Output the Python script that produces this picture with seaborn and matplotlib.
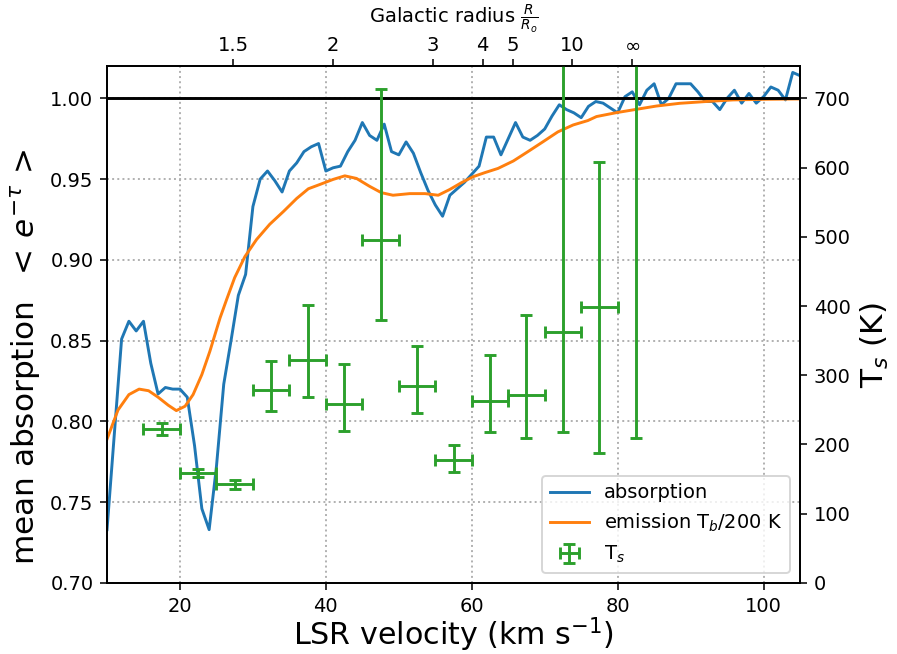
import numpy as np
import matplotlib
matplotlib.use("Agg")
import matplotlib.pyplot as plt
import seaborn as sns

# Mean HI absorption <exp(-tau)>, one channel per km/s from 10 to 105 km/s
velocity = np.arange(10, 106)
absorption = [
    0.733, 0.792, 0.851, 0.862, 0.856, 0.862, 0.836, 0.817, 0.821, 0.820,
    0.820, 0.815, 0.785, 0.746, 0.733, 0.772, 0.823, 0.850, 0.878, 0.891,
    0.933, 0.950, 0.955, 0.949, 0.942, 0.955, 0.960, 0.967, 0.970, 0.972,
    0.955, 0.957, 0.958, 0.967, 0.974, 0.985, 0.977, 0.974, 0.984, 0.967,
    0.965, 0.973, 0.966, 0.954, 0.943, 0.934, 0.927, 0.940, 0.944, 0.948,
    0.953, 0.958, 0.976, 0.976, 0.965, 0.975, 0.985, 0.976, 0.974, 0.977,
    0.981, 0.989, 0.996, 0.993, 0.991, 0.988, 0.995, 0.998, 0.997, 0.994,
    0.991, 1.001, 1.004, 0.996, 1.005, 1.009, 0.996, 1.000, 1.009, 1.009,
    1.009, 1.004, 0.998, 0.998, 0.993, 1.000, 1.005, 0.997, 1.003, 0.997,
    1.001, 1.007, 1.005, 0.999, 1.016, 1.014,
]

# Smoothed HI emission, T_b / 200 K
emission_velocity = [
    10.0, 11.5, 13.0, 14.4, 15.7, 17.0, 18.4, 19.5, 20.7, 21.8,
    23.0, 24.1, 25.5, 26.4, 27.5, 28.9, 30.5, 32.3, 34.2, 36.0,
    37.6, 39.2, 41.0, 42.6, 44.2, 46.0, 47.6, 49.2, 51.5, 53.6,
    55.4, 57.0, 58.6, 60.2, 61.8, 63.6, 65.7, 67.7, 69.8, 71.8,
    73.9, 75.9, 77.1, 79.8, 82.6, 85.3, 88.5, 92.1, 95.8, 100.4,
    105.0,
]
emission = [
    0.789, 0.807, 0.8166, 0.820, 0.819, 0.815, 0.810, 0.8067, 0.8094, 0.8166,
    0.829, 0.8434, 0.8641, 0.8755, 0.889, 0.902, 0.9126, 0.922, 0.930, 0.938,
    0.944, 0.9467, 0.9498, 0.952, 0.9504, 0.9455, 0.9416, 0.940, 0.941, 0.941,
    0.940, 0.9436, 0.9478, 0.9515, 0.954, 0.9566, 0.9612, 0.967, 0.9732, 0.9792,
    0.9835, 0.9862, 0.9887, 0.9911, 0.9932, 0.9952, 0.9969, 0.998, 0.999, 0.9994,
    0.9996,
]

# Spin temperature in 5 km/s bins, with asymmetric uncertainties (K)
ts_velocity = [17.5, 22.5, 27.5, 32.5, 37.5, 42.5, 47.5,
               52.5, 57.5, 62.5, 67.5, 72.5, 77.5, 82.5]
ts_value = [222, 159, 143, 279, 322, 259, 496,
            285, 177, 263, 271, 363, 398, 900]
ts_err_low = [9, 6, 7, 30, 53, 40, 116,
              40, 17, 45, 62, 145, 210, 691]
ts_err_high = [9, 5, 6, 41, 80, 57, 217,
               57, 22, 66, 116, 600, 210, 600]
ts_half_bin = 2.5

# Galactocentric radius (in units of R_o) marked along the top axis
radius_ticks = np.array([1.5, 2, 3, 4, 5, 10, np.inf])
radius_labels = ["1.5", "2", "3", "4", "5", "10", r"$\infty$"]
v_infinity = 82.0  # LSR velocity approached as R -> infinity on this sightline

blue, orange, green = "#1f77b4", "#ff7f0e", "#2ca02c"

fig = plt.figure(figsize=(897 / 140, 654 / 140), dpi=140)
ax = fig.add_axes([0.1193, 0.1086, 0.7726, 0.7905])

ax.grid(True, linestyle=":", color="#b0b0b0", linewidth=1.0)
ax.set_axisbelow(True)

sns.lineplot(x=velocity, y=absorption, ax=ax, color=blue, linewidth=1.5,
             label="absorption")
sns.lineplot(x=emission_velocity, y=emission, ax=ax, color=orange,
             linewidth=1.5, label=r"emission T$_b$/200 K")
ax.axhline(1.0, color="black", linewidth=1.5)

ax.set_xlim(10, 105)
ax.set_ylim(0.70, 1.02)
ax.set_yticks([0.70, 0.75, 0.80, 0.85, 0.90, 0.95, 1.00])
ax.set_yticklabels([f"{t:.2f}" for t in ax.get_yticks()])
ax.set_xticks([20, 40, 60, 80, 100])
ax.set_xlabel(r"LSR velocity (km s$^{-1}$)", fontsize=15.5, labelpad=0)
ax.set_ylabel(r"mean absorption  $<\,e^{-\tau}\,>$", fontsize=16)
ax.yaxis.set_label_coords(-0.093, 0.437)

# Top axis: Galactocentric radius for a flat rotation curve
ax_top = ax.twiny()
ax_top.set_xlim(ax.get_xlim())
ax_top.set_xticks(v_infinity * (1.0 - 1.0 / radius_ticks))
ax_top.set_xticklabels(radius_labels)
ax_top.tick_params(axis="x", pad=2)
ax_top.set_xlabel(r"Galactic radius $\frac{R}{R_o}$", labelpad=7)

# Right axis: spin temperature, scaled so 700 K sits on the unity line
ax2 = ax.twinx()
ax2.set_ylim(0, 700 * (1.02 - 0.70) / (1.00 - 0.70))
ax2.set_yticks(range(0, 701, 100))
ts = ax2.errorbar(ts_velocity, ts_value, yerr=[ts_err_low, ts_err_high],
                  xerr=ts_half_bin, fmt="none", ecolor=green,
                  elinewidth=1.5, capsize=3, capthick=1.5, label=r"T$_s$")
ax2.set_ylabel(r"T$_s$ (K)", fontsize=16)
ax2.yaxis.set_label_coords(1.085, 0.46)

handles, labels = ax.get_legend_handles_labels()
if ax.get_legend() is not None:
    ax.get_legend().remove()
ax2.legend(handles + [ts], labels + [r"T$_s$"], loc="lower right")

fig.savefig("out.png", dpi=140)
